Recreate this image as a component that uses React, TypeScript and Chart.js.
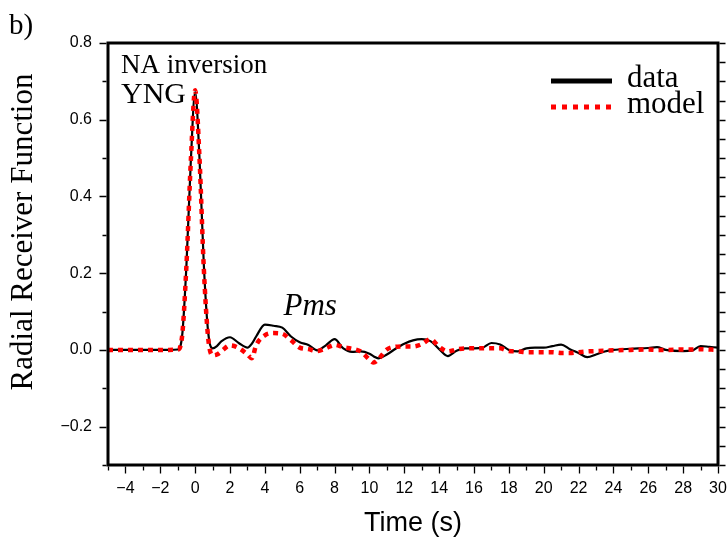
import React, { useEffect, useRef } from "react";
import { Chart, registerables } from "chart.js";

Chart.register(...registerables);

const times = [
  -5, -4, -3, -2, -1.5, -1, -0.75, -0.5, -0.25, 0, 0.25, 0.5, 0.75, 1, 1.25, 1.5, 2, 2.5, 3, 3.25, 3.5,
  4, 4.5, 5, 5.5, 6, 6.5, 7, 7.5, 8, 8.5, 9, 9.5, 10, 10.25, 10.5, 11, 11.5, 12, 12.5, 13, 13.5, 14,
  14.5, 15, 15.5, 16, 16.5, 17, 17.5, 18, 18.5, 19, 19.5, 20, 20.5, 21, 21.5, 22, 22.5, 23, 23.5, 24,
  25, 26, 26.5, 27, 28, 28.5, 29, 29.5, 30,
];

const dataValues = [
  0, 0, 0, 0, 0, 0.001, 0.035, 0.22, 0.49, 0.672, 0.5, 0.22, 0.045, 0.004, 0.01, 0.022, 0.033, 0.018, 0.006, 0.016, 0.035,
  0.066, 0.063, 0.058, 0.035, 0.02, 0.013, -0.001, 0.012, 0.028, 0.004, -0.005, -0.004, -0.01, -0.017, -0.022, -0.012, 0.003, 0.016, 0.025, 0.028, 0.023, 0.002,
  -0.016, -0.002, 0.004, 0.004, 0.006, 0.018, 0.014, 0.0, -0.004, 0.004, 0.006, 0.006, 0.01, 0.014, 0.002, -0.008, -0.019, -0.012, -0.004, 0.0,
  0.003, 0.005, 0.007, 0.0, -0.003, -0.002, 0.01, 0.008, 0.006,
];

const modelValues = [
  0, 0, 0, 0, 0, 0.001, 0.035, 0.22, 0.49, 0.677, 0.5, 0.21, 0.03, -0.014, -0.012, -0.004, 0.012, 0.005, -0.012, -0.022, 0.012,
  0.038, 0.044, 0.042, 0.025, 0.006, 0.002, -0.003, 0.004, 0.013, 0.007, 0.003, -0.004, -0.025, -0.033, -0.025, 0.001, 0.008, 0.009, 0.009, 0.015, 0.028, 0.008,
  -0.004, 0.001, 0.004, 0.004, 0.004, 0.004, 0.004, -0.003, -0.004, -0.006, -0.006, -0.006, -0.006, -0.008, -0.008, -0.006, -0.004, -0.003, -0.002, -0.001,
  0.0, 0.001, 0.0, 0.0, 0.001, 0.001, 0.002, 0.001, 0.0,
];

const seriesNames = ["data", "model"];
const xTitle = "Time (s)";
const yTitle = "Radial Receiver Function";
const panelLabel = "b)";
const noteLines = ["NA inversion", "YNG"];
const phaseLabel = "Pms";
const phaseTime = 6.6;
const phaseValue = 0.091;

const SERIF = '"Liberation Serif", "DejaVu Serif", serif';
const SANS = '"Liberation Sans", Arial, sans-serif';

const fmt = (v: number) => (v < 0 ? "\u2212" : "") + Math.abs(v).toString();

const decorPlugin = {
  id: "decor",
  afterDraw(chart: any) {
    const { ctx, chartArea } = chart;
    const { left, right, top, bottom } = chartArea;
    const xs = chart.scales.x;
    const ys = chart.scales.y;
    ctx.save();
    ctx.strokeStyle = "#000";
    ctx.fillStyle = "#000";
    // frame
    ctx.lineWidth = 3;
    ctx.strokeRect(left, top, right - left, bottom - top);
    ctx.lineWidth = 1.3;
    ctx.beginPath();
    // left ticks
    ys.ticks.forEach((t: any) => {
      const r = Math.round(t.value * 10);
      const len = r % 2 === 0 ? 7 : 4;
      const y = Math.round(ys.getPixelForValue(t.value)) + 0.5;
      ctx.moveTo(left - 1.5, y);
      ctx.lineTo(left - 1.5 - len, y);
    });
    // right ticks every 0.05
    for (let i = -6; i <= 16; i++) {
      const y = Math.round(ys.getPixelForValue(i * 0.05)) + 0.5;
      ctx.moveTo(right + 1.5, y);
      ctx.lineTo(right + 1.5 + 6, y);
    }
    // bottom ticks
    xs.ticks.forEach((t: any) => {
      const r = Math.round(t.value);
      const len = Math.abs(r) % 2 === 0 ? 7 : 4;
      const x = Math.round(xs.getPixelForValue(t.value)) + 0.5;
      ctx.moveTo(x, bottom + 1.5);
      ctx.lineTo(x, bottom + 1.5 + len);
    });
    ctx.stroke();

    // y title
    ctx.save();
    ctx.translate(24, 232);
    ctx.rotate(-Math.PI / 2);
    ctx.font = `31px ${SERIF}`;
    ctx.textAlign = "center";
    ctx.textBaseline = "middle";
    ctx.fillText(yTitle, 0, 0);
    ctx.restore();

    // panel label
    ctx.textAlign = "left";
    ctx.textBaseline = "alphabetic";
    ctx.font = `29px ${SERIF}`;
    ctx.fillText(panelLabel, 9, 34);

    // notes
    ctx.font = `27px ${SERIF}`;
    ctx.fillText(noteLines[0], left + 13, top + 30);
    ctx.font = `30px ${SERIF}`;
    ctx.fillText(noteLines[1], left + 13, top + 60);

    // phase label
    ctx.font = `italic 31px ${SERIF}`;
    ctx.textAlign = "center";
    ctx.fillText(phaseLabel, xs.getPixelForValue(phaseTime), ys.getPixelForValue(phaseValue));

    // legend
    ctx.textAlign = "left";
    const lx0 = right - 167;
    const lx1 = right - 106;
    const ly0 = top + 38;
    const ly1 = top + 64;
    ctx.lineWidth = 5;
    ctx.strokeStyle = "#000";
    ctx.beginPath();
    ctx.moveTo(lx0, ly0);
    ctx.lineTo(lx1, ly0);
    ctx.stroke();
    ctx.strokeStyle = "#ff0000";
    ctx.setLineDash([5, 6]);
    ctx.lineCap = "butt";
    ctx.beginPath();
    ctx.moveTo(lx0, ly1);
    ctx.lineTo(lx1 + 1, ly1);
    ctx.stroke();
    ctx.setLineDash([]);
    ctx.font = `31px ${SERIF}`;
    ctx.fillText(seriesNames[0], right - 91, ly0 + 6);
    ctx.fillText(seriesNames[1], right - 91, ly1 + 6);
    ctx.restore();
  },
};

export default function App() {
  const ref = useRef<HTMLCanvasElement | null>(null);
  useEffect(() => {
    if (!ref.current) return;
    Chart.defaults.color = "#000";
    const chart = new Chart(ref.current, {
      type: "line",
      data: {
        datasets: [
          {
            label: seriesNames[1],
            data: times.map((t, i) => ({ x: t, y: modelValues[i] })),
            borderColor: "#ff0000",
            borderWidth: 4.5,
            borderDash: [5, 5],
            borderCapStyle: "butt",
            pointRadius: 0,
            cubicInterpolationMode: "monotone",
            fill: false,
            order: 0,
          },
          {
            label: seriesNames[0],
            data: times.map((t, i) => ({ x: t, y: dataValues[i] })),
            borderColor: "#000",
            borderWidth: 2.2,
            pointRadius: 0,
            cubicInterpolationMode: "monotone",
            fill: false,
            order: 1,
          },
        ],
      },
      plugins: [decorPlugin],
      options: {
        animation: false,
        responsive: true,
        maintainAspectRatio: false,
        layout: { padding: { top: 43, right: 10, left: 0, bottom: 0 } },
        plugins: { legend: { display: false }, tooltip: { enabled: false } },
        scales: {
          x: {
            type: "linear",
            min: -5,
            max: 30,
            grid: { display: false, drawTicks: false },
            border: { display: false },
            ticks: {
              stepSize: 1,
              autoSkip: false,
              maxRotation: 0,
              padding: 14,
              font: { family: SANS, size: 16 },
              color: "#000",
              callback: (v: any) => {
                const r = Math.round(Number(v));
                return Math.abs(r) % 2 === 0 && r > -5 ? fmt(r) : "";
              },
            },
            title: {
              display: true,
              text: xTitle,
              font: { family: SANS, size: 27 },
              color: "#000",
              padding: { top: 0, bottom: 11 },
            },
            afterFit: (s: any) => {
              s.height = 86;
              s.paddingLeft = 0;
              s.paddingRight = 0;
            },
          },
          y: {
            type: "linear",
            min: -0.3,
            max: 0.8,
            grid: { display: false, drawTicks: false },
            border: { display: false },
            ticks: {
              stepSize: 0.1,
              autoSkip: false,
              padding: 16,
              font: { family: SANS, size: 16 },
              color: "#000",
              callback: (v: any) => {
                const r = Math.round(Number(v) * 10);
                return r % 2 === 0 ? fmt(Number((r / 10).toFixed(1))).replace(/^(\u2212?)(\d)$/, "$1$2.0").replace(/^(\u2212?)0?\.(\d)$/, "$10.$2") : "";
              },
            },
            afterFit: (s: any) => {
              s.width = 108;
              s.paddingTop = 0;
              s.paddingBottom = 0;
            },
          },
        },
      },
    });
    return () => chart.destroy();
  }, []);
  return (
    <div style={{ position: "fixed", left: 0, top: 0, width: 728, height: 551, background: "#fff" }}>
      <canvas ref={ref} />
    </div>
  );
}
